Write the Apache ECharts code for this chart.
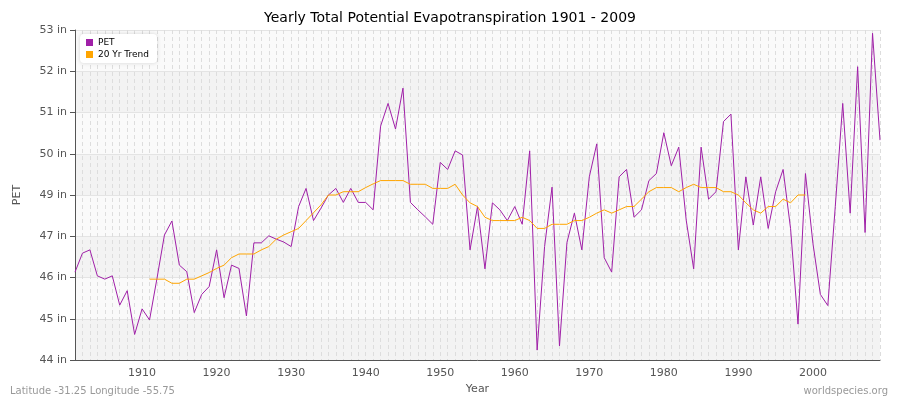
<!DOCTYPE html>
<html><head><meta charset="utf-8">
<script src="https://cdn.jsdelivr.net/npm/echarts@6/dist/echarts.min.js"></script>
<style>html,body{margin:0;padding:0;background:#fff}#c{width:900px;height:400px}</style>
</head><body><div id="c"></div>
<script>
// Y positions are on the tick-index scale (0 = "44 in" ... 8 = "53 in")
var yTickLabels = ["44 in","45 in","46 in","47 in","49 in","50 in","51 in","52 in","53 in"];
var petStartYear = 1901;
var petValues = [2.13,2.59,2.67,2.04,1.96,2.04,1.33,1.68,0.62,1.24,0.97,1.98,3.03,3.37,2.30,2.14,1.15,1.59,1.78,2.67,
1.51,2.30,2.22,1.07,2.84,2.84,3.01,2.93,2.86,2.75,3.72,4.16,3.38,3.68,4.00,4.16,3.82,4.16,3.82,3.82,
3.64,5.67,6.22,5.60,6.59,3.82,3.64,3.47,3.29,4.79,4.62,5.07,4.97,2.67,3.72,2.21,3.81,3.64,3.38,3.72,
3.29,5.07,0.24,2.75,4.19,0.34,2.85,3.56,2.67,4.44,5.24,2.48,2.13,4.44,4.62,3.46,3.64,4.35,4.52,5.51,
4.71,5.16,3.39,2.21,5.16,3.90,4.08,5.78,5.96,2.67,4.44,3.27,4.44,3.19,4.08,4.62,3.19,0.87,4.52,2.83,
1.59,1.32,3.72,6.22,3.56,7.11,3.09,7.92,5.33];
var trendStartYear = 1911;
var trendValues = [1.96,1.96,1.96,1.86,1.86,1.96,1.96,2.04,2.12,2.22,2.30,2.48,2.57,2.57,2.57,2.67,2.75,2.93,3.03,3.11,
3.19,3.38,3.57,3.76,4.00,4.00,4.08,4.08,4.08,4.18,4.27,4.35,4.35,4.35,4.35,4.26,4.26,4.26,4.16,4.16,
4.16,4.26,4.00,3.81,3.72,3.46,3.38,3.38,3.38,3.38,3.46,3.38,3.19,3.19,3.29,3.29,3.29,3.38,3.38,3.46,
3.56,3.64,3.56,3.64,3.72,3.72,3.90,4.08,4.18,4.18,4.18,4.08,4.18,4.26,4.18,4.18,4.18,4.08,4.08,4.00,
3.81,3.64,3.56,3.72,3.72,3.90,3.81,4.00,4.00];

var pet = petValues.map(function(v,i){return [petStartYear+i,v];});
var trend = trendValues.map(function(v,i){return [trendStartYear+i,v];});
var chart = echarts.init(document.getElementById('c'));
chart.setOption({
  animation:false,
  title:{text:'Yearly Total Potential Evapotranspiration 1901 - 2009',left:'center',top:6,
    textStyle:{fontFamily:'DejaVu Sans',fontSize:14,fontWeight:'normal',color:'#000'}},
  legend:{left:80,top:34,orient:'vertical',itemWidth:7,itemHeight:7,itemGap:3,icon:'rect',
    backgroundColor:'#fff',borderRadius:4,padding:[4,8,4,6],shadowColor:'rgba(0,0,0,0.15)',shadowBlur:4,
    textStyle:{fontFamily:'DejaVu Sans',fontSize:9,color:'#000'},
    data:['PET','20 Yr Trend']},
  grid:{left:75,right:20,top:30,bottom:40},
  xAxis:{type:'value',min:1901,max:2009,interval:1,name:'Year',nameLocation:'middle',nameGap:22,
    nameTextStyle:{fontFamily:'DejaVu Sans',fontSize:11,color:'#555'},
    axisLine:{lineStyle:{color:'#555'}},axisTick:{show:false},
    axisLabel:{fontFamily:'DejaVu Sans',fontSize:11,color:'#555',showMinLabel:false,showMaxLabel:false,
      formatter:function(v){return v%10===0?String(v):'';}},
    splitLine:{show:true,lineStyle:{color:'#ddd',type:[4,3],width:1}}},
  yAxis:{type:'value',min:0,max:8,interval:1,name:'PET',nameLocation:'middle',nameGap:52,
    nameTextStyle:{fontFamily:'DejaVu Sans',fontSize:11,color:'#555'},
    axisLine:{show:true,lineStyle:{color:'#555'}},axisTick:{show:true,length:5,lineStyle:{color:'#555'}},
    axisLabel:{fontFamily:'DejaVu Sans',fontSize:11,color:'#555',formatter:function(v){return yTickLabels[v]||'';}},
    splitLine:{show:true,lineStyle:{color:'#e4e4e4'}},
    splitArea:{show:true,areaStyle:{color:['#f3f3f3','#fafafa']}}},
  series:[
    {name:'PET',type:'line',data:pet,symbol:'none',lineStyle:{color:'#a020a8',width:1},itemStyle:{color:'#a020a8'}},
    {name:'20 Yr Trend',type:'line',data:trend,symbol:'none',lineStyle:{color:'#ffa500',width:1},itemStyle:{color:'#ffa500'}}
  ],
  graphic:[
    {type:'text',left:10,top:386,style:{text:'Latitude -31.25 Longitude -55.75',fill:'#999',font:'10px DejaVu Sans'}},
    {type:'text',right:12,top:386,style:{text:'worldspecies.org',fill:'#999',font:'10px DejaVu Sans'}}
  ]
});
</script></body></html>
